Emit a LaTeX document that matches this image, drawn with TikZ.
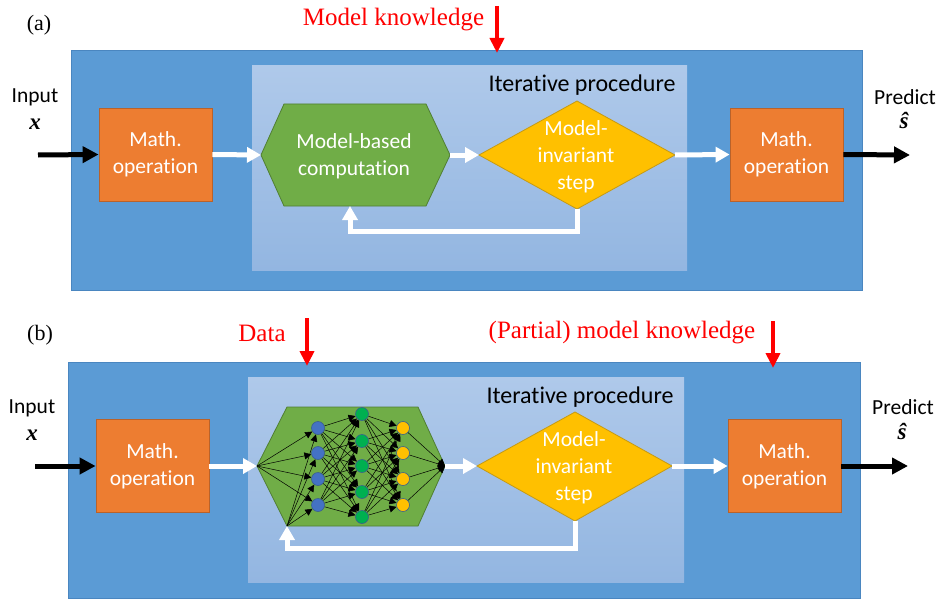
\documentclass[tikz,border=0pt]{standalone}
\usepackage{fontspec}
\setmainfont{Liberation Serif}
\newfontfamily\carl[Ligatures=NoCommon]{Carlito}
\usetikzlibrary{arrows.meta,calc}
\definecolor{outerblue}{HTML}{5B9BD5}
\definecolor{outerdraw}{HTML}{4A86C0}
\definecolor{lighttop}{HTML}{AFC9EA}
\definecolor{lightbot}{HTML}{93B6E1}
\definecolor{orng}{HTML}{ED7D31}
\definecolor{orngdraw}{HTML}{B9622A}
\definecolor{grn}{HTML}{70AD47}
\definecolor{grndraw}{HTML}{507E32}
\definecolor{gold}{HTML}{FFC000}
\definecolor{golddraw}{HTML}{C59A14}
\definecolor{nnblue}{HTML}{4472C4}
\definecolor{nngreen}{HTML}{00B050}
\definecolor{nnline}{HTML}{3A5F8F}
\tikzset{
  outerbox/.style={fill=outerblue, draw=outerdraw, line width=0.8pt},
  lightbox/.style={top color=lighttop, bottom color=lightbot, draw=none},
  mathbox/.style={fill=orng, draw=orngdraw, line width=0.8pt, minimum width=113pt, minimum height=93pt, inner sep=0pt, text=white, font=\carl\fontsize{21.5}{27}\selectfont, align=center},
  hexsty/.style={fill=grn, draw=grndraw, line width=0.8pt},
  diasty/.style={fill=gold, draw=golddraw, line width=0.8pt},
  warr/.style={draw=white, line width=5pt, -{Triangle[width=15pt,length=14pt]}},
  barr/.style={draw=black, line width=5pt, -{Triangle[width=16pt,length=16pt]}},
  rarr/.style={draw=red, line width=4.5pt, -{Triangle[width=14pt,length=15pt]}},
  wtxt/.style={text=white, font=\carl\fontsize{21.5}{27}\selectfont, align=center, inner sep=0pt},
  btxt/.style={text=black, font=\carl\fontsize{21.5}{26}\selectfont, inner sep=0pt},
  vtxt/.style={text=black, font=\fontsize{23}{26}\selectfont\bfseries\itshape, inner sep=0pt},
  itxt/.style={text=black, font=\carl\fontsize{24}{28}\selectfont, inner sep=0pt},
  rtxt/.style={text=red, font=\fontsize{25}{30}\selectfont, inner sep=0pt},
  lbl/.style={text=black, font=\fontsize{22}{26}\selectfont, inner sep=0pt},
  nn/.style={circle, minimum size=13pt, inner sep=0pt, draw=nnline, line width=0.6pt},
  nnarr/.style={line width=0.5pt, -{Triangle[width=7pt,length=7pt]}}
}
\begin{document}
\begin{tikzpicture}[x=1pt,y=-1pt]
\useasboundingbox (0,0) rectangle (939,599);
% ================= panel (a) =================
\node[lbl] (a-lab) at (39,25) {(a)};
\draw[outerbox] (71,50) rectangle (862,290);
\shade[lightbox] (252,66) rectangle (687,270);
\node[itxt] (a-iter) at (582,85) {Iterative procedure};
\node[rtxt] (a-mk) at (393.5,20) {Model knowledge};
\coordinate (a-mkS) at (497,6);
\coordinate (a-mkE) at (497,53);
\draw[rarr] (a-mkS) -- (a-mkE);
\node[mathbox] (a-lb) at (155.5,154.5) {Math.\\operation};
\node[mathbox] (a-rb) at (786.5,154.5) {Math.\\operation};
\coordinate (a-hL) at (261,155);
\coordinate (a-hTL) at (284,104);
\coordinate (a-hTR) at (426,104);
\coordinate (a-hR) at (450,155);
\coordinate (a-hBR) at (426,206);
\coordinate (a-hBL) at (284,206);
\coordinate (a-hB) at (350,206);
\draw[hexsty] (a-hL) -- (a-hTL) -- (a-hTR) -- (a-hR) -- (a-hBR) -- (a-hBL) -- cycle;
\node[wtxt] (a-hex) at (354,156) {Model-based\\computation};
\coordinate (a-dL) at (479,155);
\coordinate (a-dT) at (577,101);
\coordinate (a-dR) at (675,155);
\coordinate (a-dB) at (577,209);
\draw[diasty] (a-dL) -- (a-dT) -- (a-dR) -- (a-dB) -- cycle;
\node[wtxt] (a-dia) at (576,157) {Model-\\invariant\\step};
\draw[warr] (a-lb.east) -- (a-hL);
\draw[warr] (a-hR) -- (a-dL);
\draw[warr] (a-dR) -- (a-rb.west);
\coordinate (a-fb) at (350,231);
\draw[warr] (a-dB) |- (a-fb) -- (a-hB);
\coordinate (a-in) at (38,155);
\coordinate (a-out) at (910,155);
\draw[barr] (a-in) -- (a-lb.west);
\draw[barr] (a-rb.east) -- (a-out);
\node[btxt] (a-input) at (35,97) {Input};
\node[vtxt] (a-x) at (35,124) {x};
\node[btxt] (a-pred) at (905,97) {Predict};
\node[vtxt] (a-s) at (904,121) {ŝ};
% ================= panel (b) =================
\node[lbl] (b-lab) at (40,335) {(b)};
\draw[outerbox] (68,362) rectangle (860,598);
\shade[lightbox] (248,377) rectangle (684,582);
\node[itxt] (b-iter) at (580,397) {Iterative procedure};
\node[rtxt] (b-data) at (262,333) {Data};
\coordinate (b-dS) at (307,318);
\coordinate (b-dE) at (307,366);
\draw[rarr] (b-dS) -- (b-dE);
\node[rtxt] (b-pmk) at (622,333) {(Partial) model knowledge};
\coordinate (b-pS) at (773,321);
\coordinate (b-pE) at (773,368);
\draw[rarr] (b-pS) -- (b-pE);
\node[mathbox] (b-lb) at (152.5,466) {Math.\\operation};
\node[mathbox] (b-rb) at (784.5,466) {Math.\\operation};
\coordinate (b-hL) at (257,466);
\coordinate (b-hTL) at (287,407);
\coordinate (b-hTR) at (418,407);
\coordinate (b-hR) at (445,466);
\coordinate (b-hBR) at (418,526);
\coordinate (b-hBL) at (287,526);
\draw[hexsty] (b-hL) -- (b-hTL) -- (b-hTR) -- (b-hR) -- (b-hBR) -- (b-hBL) -- cycle;
\foreach \i/\y in {1/428,2/453,3/479,4/505} {
  \node[nn, fill=nnblue] (b-b\i) at (318,\y) {};
  \node[nn, fill=gold] (b-o\i) at (403,\y) {};
}
\foreach \i/\y in {1/414,2/441,3/466,4/492,5/517} {
  \node[nn, fill=nngreen] (b-g\i) at (362,\y) {};
}
\foreach \i in {1,...,4} {
  \draw[nnarr] (b-hL) -- (b-b\i);
  \draw[nnarr] (b-hBL) -- (b-b\i);
  \draw[nnarr] (b-o\i) -- (b-hR);
  \foreach \j in {1,...,5} {
    \draw[nnarr] (b-b\i) -- (b-g\j);
    \draw[nnarr] (b-g\j) -- (b-o\i);
  }
}
\coordinate (b-dL) at (477,466);
\coordinate (b-dT) at (575,412);
\coordinate (b-dR) at (672,466);
\coordinate (b-dB) at (575,521);
\draw[diasty] (b-dL) -- (b-dT) -- (b-dR) -- (b-dB) -- cycle;
\node[wtxt] (b-dia) at (574,468) {Model-\\invariant\\step};
\draw[warr] (b-lb.east) -- (b-hL);
\draw[warr] (b-hR) -- (b-dL);
\draw[warr] (b-dR) -- (b-rb.west);
\coordinate (b-fb) at (287,548);
\draw[warr] (b-dB) |- (b-fb) -- (b-hBL);
\coordinate (b-in) at (35,466);
\coordinate (b-out) at (908,466);
\draw[barr] (b-in) -- (b-lb.west);
\draw[barr] (b-rb.east) -- (b-out);
\node[btxt] (b-input) at (32,408) {Input};
\node[vtxt] (b-x) at (32,435) {x};
\node[btxt] (b-pred) at (903,407) {Predict};
\node[vtxt] (b-s) at (902,431) {ŝ};
\end{tikzpicture}
\end{document}
